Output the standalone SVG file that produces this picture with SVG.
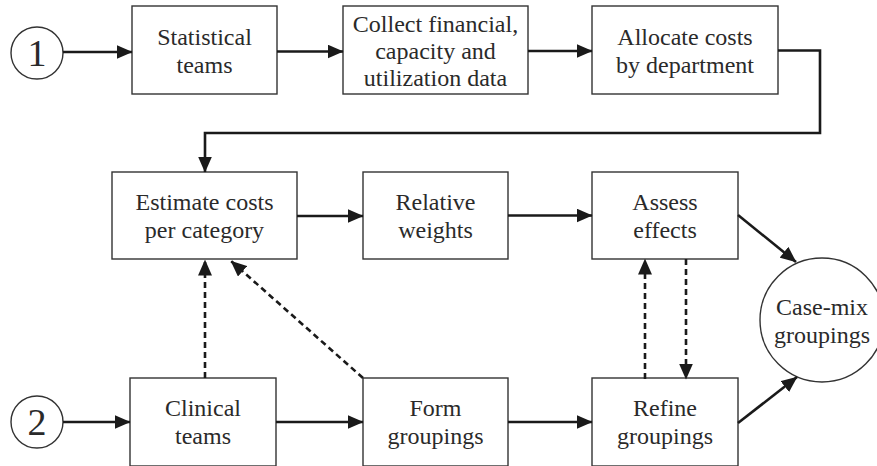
<svg xmlns="http://www.w3.org/2000/svg" width="877" height="466" viewBox="0 0 877 466">
<style>
.box{fill:#fff;stroke:#333;stroke-width:1.4}
.t{font-family:"Liberation Serif","Times New Roman",serif;font-size:24px;fill:#2a2a2a;text-anchor:middle}
.num{font-family:"Liberation Serif","Times New Roman",serif;font-size:38px;fill:#2a2a2a;text-anchor:middle}
.c{fill:none;stroke:#1a1a1a;stroke-width:2.6}
.d{fill:none;stroke:#1a1a1a;stroke-width:2.6;stroke-dasharray:6 4}
</style>
<defs>
<marker id="ah" markerWidth="16" markerHeight="14" refX="15.5" refY="7" orient="auto" markerUnits="userSpaceOnUse">
<path d="M0,0 L16,7 L0,14 z" fill="#1a1a1a"/>
</marker>
</defs>
<rect width="877" height="466" fill="#fff"/>
<g id="start1">
<circle cx="37" cy="53" r="26" fill="#fff" stroke="#333" stroke-width="1.4"/>
<text class="num" x="37" y="66">1</text>
</g>
<g id="start2">
<circle cx="37" cy="422" r="26" fill="#fff" stroke="#333" stroke-width="1.4"/>
<text class="num" x="37" y="435">2</text>
</g>
<g id="statistical">
<rect class="box" x="132" y="6" width="145" height="88"/>
<text class="t" x="204.5" y="45">Statistical</text>
<text class="t" x="204.5" y="73">teams</text>
</g>
<g id="collect">
<rect class="box" x="343" y="6" width="185" height="88"/>
<text class="t" x="435.5" y="32">Collect financial,</text>
<text class="t" x="435.5" y="59">capacity and</text>
<text class="t" x="435.5" y="86">utilization data</text>
</g>
<g id="allocate">
<rect class="box" x="592" y="6" width="186" height="88"/>
<text class="t" x="685" y="45">Allocate costs</text>
<text class="t" x="685" y="73">by department</text>
</g>
<g id="estimate">
<rect class="box" x="112" y="172" width="185" height="87"/>
<text class="t" x="204.5" y="210">Estimate costs</text>
<text class="t" x="204.5" y="238">per category</text>
</g>
<g id="relative">
<rect class="box" x="363" y="172" width="145" height="87"/>
<text class="t" x="435.5" y="210">Relative</text>
<text class="t" x="435.5" y="238">weights</text>
</g>
<g id="assess">
<rect class="box" x="592" y="172" width="146" height="87"/>
<text class="t" x="665" y="210">Assess</text>
<text class="t" x="665" y="238">effects</text>
</g>
<g id="clinical">
<rect class="box" x="130" y="378" width="146" height="88"/>
<text class="t" x="203" y="416">Clinical</text>
<text class="t" x="203" y="444">teams</text>
</g>
<g id="form">
<rect class="box" x="363" y="378" width="145" height="88"/>
<text class="t" x="435.5" y="416">Form</text>
<text class="t" x="435.5" y="444">groupings</text>
</g>
<g id="refine">
<rect class="box" x="592" y="378" width="146" height="88"/>
<text class="t" x="665" y="416">Refine</text>
<text class="t" x="665" y="444">groupings</text>
</g>
<g id="casemix">
<circle cx="822" cy="320" r="62" fill="#fff" stroke="#333" stroke-width="1.4"/>
<text class="t" x="822" y="315">Case-mix</text>
<text class="t" x="822" y="343">groupings</text>
</g>
<g id="connectors">
<path class="c" d="M63,52 L132,52" marker-end="url(#ah)"/>
<path class="c" d="M277,51.5 L343,51.5" marker-end="url(#ah)"/>
<path class="c" d="M528,51 L592,51" marker-end="url(#ah)"/>
<path class="c" d="M778,50.5 L820,50.5 L820,133 L205,133 L205,172" marker-end="url(#ah)"/>
<path class="c" d="M297,216 L363,216" marker-end="url(#ah)"/>
<path class="c" d="M508,215.5 L592,215.5" marker-end="url(#ah)"/>
<path class="c" d="M738,215 L796,262" marker-end="url(#ah)"/>
<path class="c" d="M738,423 L797,377" marker-end="url(#ah)"/>
<path class="c" d="M63,422 L130,422" marker-end="url(#ah)"/>
<path class="c" d="M276,422 L363,422" marker-end="url(#ah)"/>
<path class="c" d="M508,422 L592,422" marker-end="url(#ah)"/>
<path class="d" d="M205,378 L205,260" marker-end="url(#ah)"/>
<path class="d" d="M363,378 L231,261" marker-end="url(#ah)"/>
<path class="d" d="M645,379 L645,259" marker-end="url(#ah)"/>
<path class="d" d="M686,259 L686,379" marker-end="url(#ah)"/>
</g>
</svg>
